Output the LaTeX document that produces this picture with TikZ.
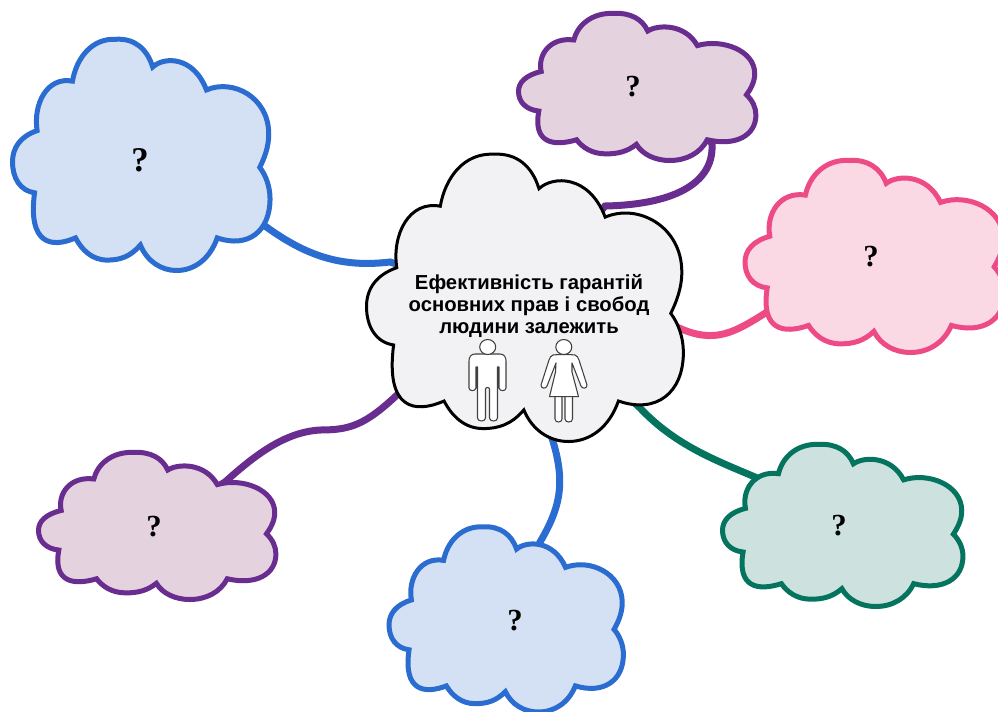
\documentclass[tikz,border=0pt]{standalone}
\usepackage{fontspec}
\setmainfont{Liberation Sans}
\newfontfamily\markfont{Liberation Serif}
\usepackage{tikz}
\usetikzlibrary{backgrounds}
\definecolor{blueline}{HTML}{2B6CD0}
\definecolor{bluefill}{HTML}{D4E0F3}
\definecolor{purpleline}{HTML}{682D8F}
\definecolor{purplefill}{HTML}{E5D2DF}
\definecolor{pinkline}{HTML}{EE4A85}
\definecolor{pinkfill}{HTML}{FAD9E5}
\definecolor{greenline}{HTML}{05745E}
\definecolor{greenfill}{HTML}{CDE2DF}
\definecolor{mainfill}{HTML}{F2F2F4}
\tikzstyle{blue cloud}=[draw=blueline, fill=bluefill, line width=3.75pt]
\tikzstyle{purple cloud}=[draw=purpleline, fill=purplefill, line width=3.75pt]
\tikzstyle{pink cloud}=[draw=pinkline, fill=pinkfill, line width=3.75pt]
\tikzstyle{green cloud}=[draw=greenline, fill=greenfill, line width=3.75pt]
\tikzstyle{main cloud}=[draw=black, fill=mainfill, line width=2.25pt]
\tikzstyle{mark big}=[font=\markfont\bfseries\fontsize{26}{26}\selectfont, inner sep=0pt]
\tikzstyle{mark node}=[font=\markfont\bfseries\fontsize{23}{23}\selectfont, inner sep=0pt]
\tikzstyle{link}=[line width=5.25pt]
\tikzstyle{person}=[draw=black!75, fill=white, line width=0.8pt, line join=round]
% left, bottom, width, height, style
\newcommand{\Cloud}[5]{%
  \begin{scope}[shift={(#1,#2)}, x=#3*0.0075pt, y=#4*0.0075pt]
    \draw[#5] (9.6,60.5) .. controls (8,72) and (13.5,84) .. (23.4,81.9)
      .. controls (25,92) and (31,100.5) .. (40.3,100)
      .. controls (47.5,100.5) and (52.5,96) .. (54.7,88)
      .. controls (59,92.5) and (70.5,93) .. (75.7,78.1)
      .. controls (86,83) and (100,75) .. (100,59)
      .. controls (100,53) and (98,48) .. (96.5,44.6)
      .. controls (99,41) and (100.5,36) .. (100.5,31)
      .. controls (100.5,17) and (92,9.5) .. (79.9,14.1)
      .. controls (77,5) and (71,0) .. (64,0)
      .. controls (58,0) and (52.5,4) .. (49.9,11)
      .. controls (46,6) and (42,4.5) .. (37,4.5)
      .. controls (31,4.5) and (27,9) .. (24.6,14.1)
      .. controls (15,9.5) and (6,11.5) .. (8.6,33.6)
      .. controls (3,34.5) and (0,40) .. (0,47)
      .. controls (0,53) and (3,58) .. (9.6,60.5) -- cycle;
  \end{scope}}

\begin{document}
\begin{tikzpicture}[x=0.75pt, y=-0.75pt]
  \useasboundingbox (0,0) rectangle (998,711);
% clouds
  \Cloud{366.5}{441.5}{315}{287}{main cloud}
  \Cloud{12.5}{270.5}{256}{231}{blue cloud}
  \Cloud{518.5}{160.5}{236}{147}{purple cloud}
  \Cloud{745}{352.5}{258}{192}{pink cloud}
  \Cloud{722.5}{606.5}{239}{162}{green cloud}
  \Cloud{389}{712}{233}{185}{blue cloud}
  \Cloud{38.5}{599.5}{236}{147}{purple cloud}
% texts
  \node[align=center, inner sep=0pt, font=\bfseries\fontsize{15.2}{16.6}\selectfont] (main) at (529,306)
    {Ефективність гарантій\\основних прав і свобод\\людини залежить};
  \node[mark big] (cloudA) at (140,160) {?};
  \node[mark node] (cloudB) at (633,87) {?};
  \node[mark node] (cloudC) at (871,257) {?};
  \node[mark node] (cloudD) at (839,526) {?};
  \node[mark node] (cloudE) at (515,621) {?};
  \node[mark node] (cloudF) at (154,527) {?};
% links sit behind the clouds
  \begin{scope}[on background layer]
    \draw[link, blueline] (cloudA.center) -- (265,226) .. controls (305,255) and (340,268) .. (390,262) -- (main.center);
    \draw[link, purpleline] (main.center) -- (605,206) .. controls (660,205) and (715,190) .. (712,143) -- (cloudB.center);
    \draw[link, pinkline] (main.center) -- (677,327) .. controls (715,345) and (735,332) .. (767,312) -- (cloudC.center);
    \draw[link, greenline] (main.center) -- (640,408) .. controls (675,445) and (715,460) .. (755,477) -- (cloudD.center);
    \draw[link, blueline] (main.center) -- (552,438) .. controls (565,480) and (562,505) .. (540,542) -- (cloudE.center);
    \draw[link, purpleline] (main.center) -- (397,395) .. controls (365,425) and (350,430) .. (320,430)
      .. controls (285,432) and (255,455) .. (225,482) -- (cloudF.center);
  \end{scope}
% man
  \draw[person] (483,354) -- (475,354) .. controls (471,354) and (469,357) .. (469,361) -- (469,388)
    .. controls (469,391) and (475,392) .. (476,388) -- (476,367) -- (477.5,367) -- (477.5,418)
    .. controls (477.5,422) and (485.5,422) .. (485.5,418) -- (485.5,389)
    .. controls (485.5,387) and (489.5,387) .. (489.5,389) -- (489.5,418)
    .. controls (489.5,422) and (497.5,422) .. (497.5,418) -- (497.5,367) -- (499,367) -- (499,388)
    .. controls (500,392) and (506,391) .. (506,388) -- (506,361)
    .. controls (506,357) and (504,354) .. (500,354) -- (492,354) -- cycle;
  \draw[person] (487.7,347) ellipse [x radius=8, y radius=7.5];
% woman
  \draw[person] (555,396) -- (555,419) .. controls (555,423) and (562,423) .. (562,419) -- (562,396)
    -- (565,396) -- (565,419) .. controls (565,423) and (572.5,423) .. (572.5,419) -- (572.5,396) -- cycle;
  \draw[person] (559,354.5) -- (553,355) .. controls (551,356) and (550,357) .. (549,360) -- (541,385)
    .. controls (541,389) and (546,389) .. (547,386) -- (556,363) -- (555.5,372) -- (549.5,396.7) -- (578.5,396.7)
    -- (572,372) -- (572,363) -- (581,386) .. controls (582,389) and (587,389) .. (587,385) -- (579,360)
    .. controls (578,357) and (577,356) .. (575,355) -- (569,354.5) -- cycle;
  \draw[person] (563.8,347) ellipse [x radius=8, y radius=7.5];
\end{tikzpicture}
\end{document}
